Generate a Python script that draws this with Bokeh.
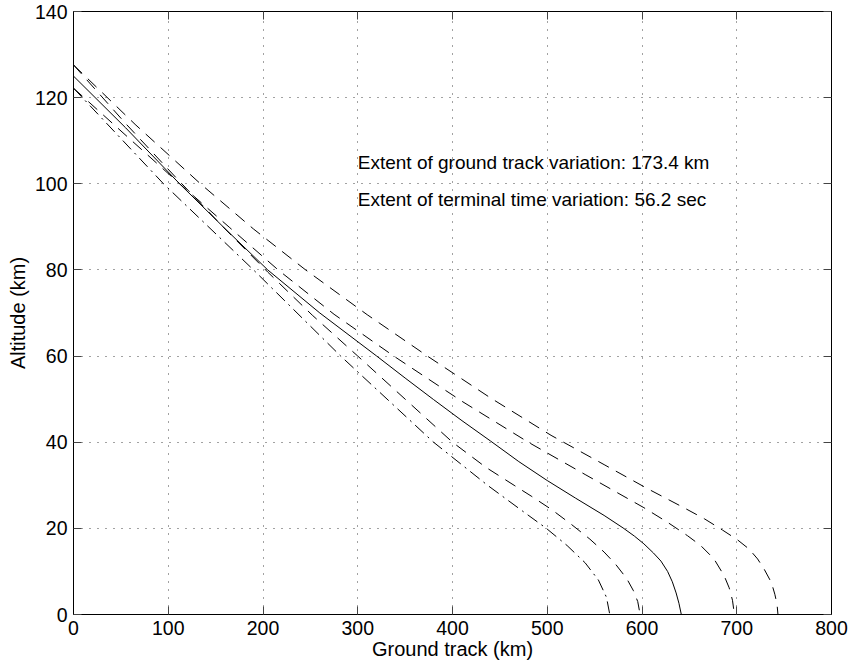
from bokeh.plotting import figure
from bokeh.models import Range1d, LinearAxis, FixedTicker, ColumnDataSource
from bokeh.core.properties import value
from bokeh.embed import file_html
from bokeh.resources import INLINE

# ---- data ----
x_ticks = [0, 100, 200, 300, 400, 500, 600, 700, 800]
y_ticks = [0, 20, 40, 60, 80, 100, 120, 140]

# nominal (solid)
x_nom = [0, 55, 112, 158, 205, 260, 320, 350, 380, 410, 440, 470, 500, 530, 560, 580, 592, 602, 612, 620, 627, 632, 636, 639, 641.5]
alt_nom = [125, 113, 100, 90, 80, 70, 60, 54.9, 49.9, 45, 40.3, 35.5, 31.1, 27.0, 23.0, 20.1, 18.2, 16.4, 14.3, 12.4, 10, 7.6, 5, 2.6, 0]

# shortest (dash-dot)
x_a = [0, 95, 190, 282, 380, 437, 474, 499, 521, 540, 554, 562.5, 566]
alt_a = [122.2, 100, 80, 60, 40, 30, 24, 20, 16, 12, 8, 4, 0]

# short (dashed)
x_b = [0, 55, 110, 160, 205, 252, 300, 350, 400, 435, 465, 483, 505, 525, 545, 560, 572, 584, 591, 595.5, 598]
alt_b = [127.6, 114, 101, 89.5, 79.5, 69.5, 60, 50, 40, 34.2, 30, 27.5, 24.3, 21, 17.5, 14.5, 11.7, 8.3, 5.5, 3, 0]

# long (dashed)
x_d = [0, 60, 112, 165, 216, 275, 338, 410, 480, 540, 602, 627, 648, 662, 676, 686.7, 692, 695.5, 697.5]
alt_d = [122.2, 110.3, 100, 89.8, 80, 69.7, 60, 49.5, 40, 32.5, 24.8, 21.4, 18.3, 16, 12.9, 9, 6.2, 3.3, 0]

# longest (dashed)
x_e = [0, 65, 134, 190, 245, 310, 373.5, 440, 504, 560, 606, 645, 666, 685, 701, 713, 722, 729, 736.6, 740.2, 742.5, 743.5]
alt_e = [127.6, 113.8, 100, 89.5, 80, 69.6, 60, 50.3, 41.6, 34.8, 29.2, 24.7, 22.2, 19.6, 17.3, 15.2, 12.9, 10.5, 7.4, 4.7, 2.4, 0]

notes = ["Extent of ground track variation: 173.4 km",
         "Extent of terminal time variation: 56.2 sec"]
notes_x = [300, 300]
notes_y = [104.9, 96.4]

FONT = "Liberation Sans"

p = figure(width=853, height=668, output_backend="svg", toolbar_location=None,
           x_range=Range1d(0, 800), y_range=Range1d(0, 140),
           min_border_left=73, min_border_right=22, min_border_top=11, min_border_bottom=54,
           x_axis_label="Ground track (km)", y_axis_label="Altitude (km)")
p.background_fill_color = "white"
p.border_fill_color = "white"
p.outline_line_color = "black"
p.outline_line_width = 1

for ax, ticks in ((p.xaxis[0], x_ticks), (p.yaxis[0], y_ticks)):
    ax.ticker = FixedTicker(ticks=ticks)
    ax.major_tick_in = 8
    ax.major_tick_out = 0
    ax.minor_tick_line_color = None
    ax.major_tick_line_color = "#444444"
    ax.axis_line_color = "black"
    ax.major_label_text_font = FONT
    ax.major_label_text_font_size = "19.5px"
    ax.major_label_text_color = "black"
    ax.axis_label_text_font = FONT
    ax.axis_label_text_font_size = "20px"
    ax.axis_label_text_font_style = "normal"
    ax.axis_label_text_color = "black"
    ax.major_label_standoff = 6
p.xaxis[0].axis_label_standoff = 0
p.yaxis[0].axis_label_standoff = 3

# box axes (top / right): ticks only, no labels
for loc, ticks in (("above", x_ticks), ("right", y_ticks)):
    ax = LinearAxis(ticker=FixedTicker(ticks=ticks))
    ax.major_tick_in = 8
    ax.major_tick_out = 0
    ax.minor_tick_line_color = None
    ax.major_tick_line_color = "#444444"
    ax.axis_line_color = "black"
    ax.major_label_overrides = {t: "" for t in ticks}
    ax.major_label_text_color = None
    ax.major_label_text_font_size = "1px"
    ax.major_label_standoff = 0
    p.add_layout(ax, loc)

p.xgrid[0].ticker = FixedTicker(ticks=x_ticks)
p.ygrid[0].ticker = FixedTicker(ticks=y_ticks)
for g in (p.xgrid[0], p.ygrid[0]):
    g.grid_line_color = "#444444"
    g.grid_line_dash = "1 7"
    g.grid_line_width = 1

p.line(x_e, alt_e, line_color="black", line_width=1, line_dash="12 8")
p.line(x_d, alt_d, line_color="black", line_width=1, line_dash="12 8")
p.line(x_nom, alt_nom, line_color="black", line_width=1)
p.line(x_b, alt_b, line_color="black", line_width=1, line_dash="12 8")
p.line(x_a, alt_a, line_color="black", line_width=1, line_dash="12 5 2 5")

src = ColumnDataSource(dict(x=notes_x, y=notes_y, t=notes))
p.text(x="x", y="y", text="t", source=src, text_font=value(FONT), text_font_size="19px",
       text_align="left", text_baseline="alphabetic", text_color="black")

open("out.html", "w").write(file_html(p, INLINE))
